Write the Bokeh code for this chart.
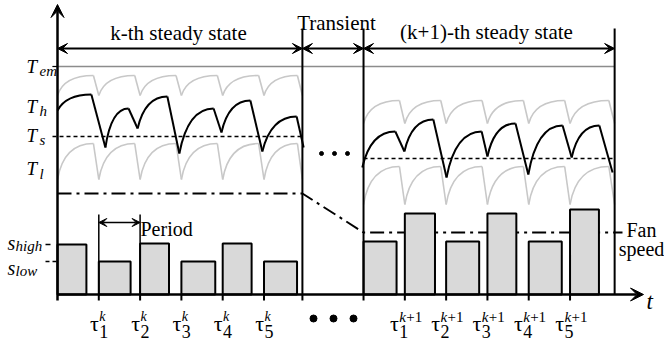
from bokeh.plotting import figure
from bokeh.models import Range1d, Arrow, VeeHead
from bokeh.core.properties import value
from bokeh.embed import file_html
from bokeh.resources import INLINE

# ---------------- data (time in 1/10 of a control period, levels in arbitrary units) ----
tau_k = [0, 10, 20, 30, 40, 50]                    # switching instants, k-th steady state
k_end = 59.3                                        # end of k-th steady state
tau_k1 = [74.1, 84.1, 94.1, 104.1, 114.1, 124.1]    # switching instants, (k+1)-th steady state
k1_end = 134.9                                      # end of (k+1)-th steady state

fan_k = [5.0, 3.3, 5.1, 3.3, 5.1, 3.3]              # fan speed per period (k)
on_k = [7.0, 7.7, 7.0, 8.2, 7.0, 8.0]               # active duration per period (k)
fan_k1 = [5.3, 8.1, 5.3, 8.1, 5.3, 8.5]             # fan speed per period (k+1)
on_k1 = [8.0, 7.3, 8.0, 7.0, 8.0, 7.0]              # active duration per period (k+1)

s_high, s_low = 5.0, 3.3
T_em = 22.8
T_s_k, T_s_k1 = 15.8, 13.6
fan_avg_k, fan_avg_k1 = 10.1, 6.2

gray_upper_k = (19.9, 21.9)    # (cusp, top)
gray_lower_k = (11.5, 15.1)
gray_upper_k1 = (17.1, 19.4)
gray_lower_k1 = (9.0, 12.8)

# temperature turning points (trough, peak, trough, ...)
temp_k_t = [0, 8.2, 11.6, 17.2, 19.4, 26.6, 29.5, 37.8, 39.7, 46.7, 49.6, 57.9, 59.6]
temp_k_T = [18.4, 20.0, 14.7, 18.6, 16.6, 19.8, 14.1, 18.6, 16.2, 19.4, 14.3, 17.8, 14.7]
temp_k1_t = [73.8, 81.8, 84.0, 91.0, 94.2, 102.7, 104.1, 110.9, 114.0, 122.3, 124.5, 131.2, 134.4]
temp_k1_T = [12.7, 16.3, 14.3, 17.5, 11.7, 16.3, 13.8, 17.1, 12.0, 16.9, 13.7, 16.9, 12.2]

sub_k = ["1", "2", "3", "4", "5"]

# ---------------- layout ----------------
W, H = 664, 342
SX, SY = 4.13, 10.0      # pixels per unit
X0, Y0 = 57, 294         # pixel position of the origin


def px(v):
    return (v - X0) / SX


def py(v):
    return (Y0 - v) / SY


p = figure(width=W, height=H, output_backend="svg", toolbar_location=None,
           x_range=Range1d(px(0), px(W)), y_range=Range1d(py(H), py(0)),
           x_axis_type=None, y_axis_type=None, min_border=0)
p.outline_line_color = None
p.background_fill_color = "white"
p.border_fill_color = "white"

FONT_NAME = "Liberation Serif"
GRAY = "#c8c8c8"


def txt(x, y, s, size, style="normal", align="left", color="black"):
    kw = dict(text_font=value(FONT_NAME), text_font_size=f"{size}px",
              text_align=align, text_baseline="alphabetic", text_color=color)
    if style != "normal":
        kw["text_font_style"] = style
    p.text(x=[x], y=[y], text=[s], **kw)


def gray_wave(cusps, low, top):
    q = dict(x0=[], y0=[], x1=[], y1=[], cx=[], cy=[])
    s = dict(x0=[], y0=[], x1=[], y1=[])
    for a, b in zip(cusps[:-1], cusps[1:]):
        d = b - a
        xp = a + 0.87 * d
        q["x0"].append(a); q["y0"].append(low)
        q["x1"].append(xp); q["y1"].append(top)
        q["cx"].append(a + 0.15 * d); q["cy"].append(top)
        s["x0"].append(xp); s["y0"].append(top)
        s["x1"].append(b); s["y1"].append(low)
    p.quadratic(**q, line_color=GRAY, line_width=1.6)
    p.segment(**s, line_color=GRAY, line_width=1.6)


def black_wave(ts, Ts):
    q = dict(x0=[], y0=[], x1=[], y1=[], cx=[], cy=[])
    s = dict(x0=[], y0=[], x1=[], y1=[])
    for i in range(len(ts) - 1):
        if i % 2 == 0:
            q["x0"].append(ts[i]); q["y0"].append(Ts[i])
            q["x1"].append(ts[i + 1]); q["y1"].append(Ts[i + 1])
            q["cx"].append(ts[i] + 0.25 * (ts[i + 1] - ts[i])); q["cy"].append(Ts[i + 1])
        else:
            s["x0"].append(ts[i]); s["y0"].append(Ts[i])
            s["x1"].append(ts[i + 1]); s["y1"].append(Ts[i + 1])
    p.quadratic(**q, line_color="black", line_width=2)
    p.segment(**s, line_color="black", line_width=2)


def arrow(x0, y0, x1, y1, both=False, size=10, lw=2):
    head = lambda: VeeHead(size=size, fill_color="black", line_color="black", line_width=1)
    p.add_layout(Arrow(start=head() if both else None, end=head(),
                       x_start=x0, y_start=y0, x_end=x1, y_end=y1,
                       line_width=lw, line_color="black"))


# emergency temperature line
p.line([px(52), k1_end], [T_em, T_em], line_color="#8c8c8c", line_width=1.5)

# gray bound curves
gray_wave(tau_k + [k_end], *gray_upper_k)
gray_wave(tau_k + [k_end], *gray_lower_k)
gray_wave(tau_k1 + [k1_end], *gray_upper_k1)
gray_wave(tau_k1 + [k1_end], *gray_lower_k1)

# set-point dashed lines
p.line([px(52), k_end], [T_s_k, T_s_k], line_color="black", line_width=1.5, line_dash="4 3")
p.line([tau_k1[0], k1_end], [T_s_k1, T_s_k1], line_color="black", line_width=1.5, line_dash="4 3")

# temperature curves
black_wave(temp_k_t, temp_k_T)
black_wave(temp_k1_t, temp_k1_T)

# fan-speed reference dash-dot line
p.line([0, k_end, tau_k1[0], px(622)], [fan_avg_k, fan_avg_k, fan_avg_k1, fan_avg_k1],
       line_color="black", line_width=2, line_dash="14 5 3 5")

# fan speed bars
p.quad(left=tau_k, right=[a + b for a, b in zip(tau_k, on_k)], bottom=0, top=fan_k,
       fill_color="#d9d9d9", line_color="black", line_width=2)
p.quad(left=tau_k1, right=[a + b for a, b in zip(tau_k1, on_k1)], bottom=0, top=fan_k1,
       fill_color="#d9d9d9", line_color="black", line_width=2)

# s_high / s_low marks
p.line([px(45), px(50)], [s_high, s_high], line_color="black", line_width=1.5)
p.line([px(45), 0], [s_low, s_low], line_color="black", line_width=1.5, line_dash="4 3")
p.line([px(52), 0], [T_em, T_em], line_color="black", line_width=1.2)

# section boundaries
bounds = [k_end, tau_k1[0], k1_end]
p.segment(x0=bounds, y0=py(28), x1=bounds, y1=0, line_color="black", line_width=2)

# axes
arrow(0, py(300), 0, py(4), size=13, lw=2.5)
arrow(0, 0, px(643), 0, size=13, lw=2.5)
ticks = tau_k[1:] + [k_end] + tau_k1
p.segment(x0=ticks, y0=0, x1=ticks, y1=py(300), line_color="black", line_width=2)

# section arrows
ya = py(48)
arrow(0, ya, k_end, ya, both=True)
arrow(k_end, ya, tau_k1[0], ya, both=True)
arrow(tau_k1[0], ya, k1_end, ya, both=True)

# period marker
pv = [tau_k[1], tau_k[2]]
p.segment(x0=pv, y0=py(214), x1=pv, y1=0, line_color="black", line_width=1.5)
arrow(tau_k[1], py(222), tau_k[2], py(222), both=True, size=8, lw=1.5)

# ellipsis dots
p.scatter(x=[px(321), px(334), px(347)], y=[py(153)] * 3, size=4, color="black")
p.scatter(x=[px(313), px(333), px(353)], y=[py(318)] * 3, size=7, color="black")

# texts
txt(px(178), py(32), "k-th steady state", 21, align="center")
txt(px(336), py(22), "Transient", 21, align="center")
txt(px(486), py(31), "(k+1)-th steady state", 21, align="center")
txt(px(140), py(228), "Period", 20)
txt(px(641), py(229), "Fan", 20, align="center")
txt(px(641), py(248), "speed", 20, align="center")
txt(px(646), py(301), "t", 23, style="italic")

for sub, yb, ys in [("em", 66, 70), ("h", 106, 110), ("s", 135, 139), ("l", 168, 173)]:
    txt(px(26), py(yb), "T", 19, style="italic")
    txt(px(39), py(ys), sub, 15, style="italic")

txt(px(7), py(242), "s", 20, style="italic")
txt(px(15), py(245), "high", 15, style="italic")
txt(px(7), py(267), "s", 20, style="italic")
txt(px(15), py(270), "low", 15, style="italic")

for t, s in zip(tau_k[1:], sub_k):
    txt(t, py(323), "τ", 22, align="right")
    txt(t + 0.1, py(316), "k", 14, style="italic")
    txt(t + 0.1, py(331), s, 18)
for t, s in zip(tau_k1[1:], sub_k):
    x = t - 6 / SX
    txt(x, py(323), "τ", 22, align="right")
    txt(x + 0.1, py(316), "k", 15, style="italic")
    txt(x + 0.1 + 7 / SX, py(316), "+1", 15)
    txt(x + 0.1, py(331), s, 18)

open("out.html", "w").write(file_html(p, INLINE))
